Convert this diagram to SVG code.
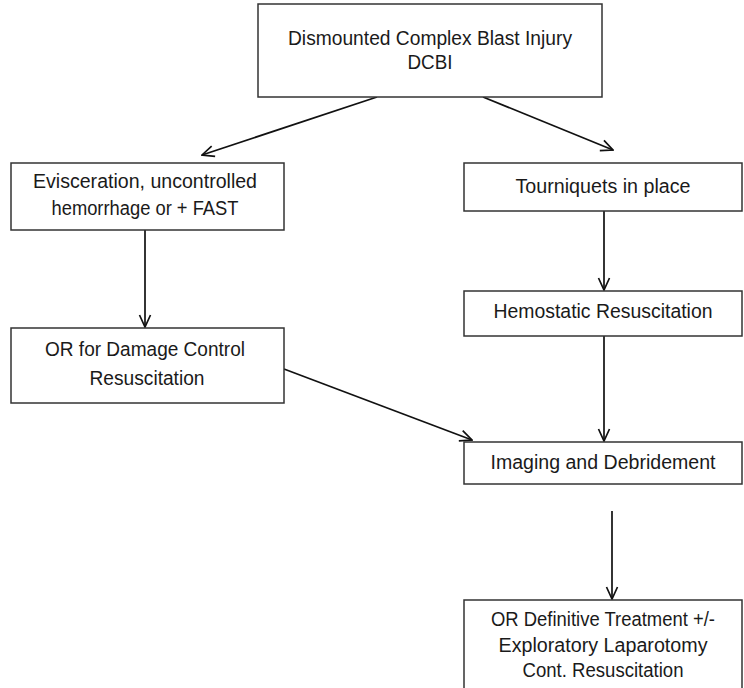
<svg xmlns="http://www.w3.org/2000/svg" width="744" height="688" viewBox="0 0 744 688">
<style>
.box{fill:#fff;stroke:#333;stroke-width:1.5}
.t{font-family:"Liberation Sans",Arial,sans-serif;font-size:20px;fill:#1a1a1a;text-anchor:middle}
.c{stroke:#111;stroke-width:1.7;fill:none}
</style>
<defs>
<marker id="ah" viewBox="0 0 14 14" refX="13" refY="7" markerWidth="14" markerHeight="14" markerUnits="userSpaceOnUse" orient="auto">
<path d="M1,1.5 L13,7 L1,12.5" fill="none" stroke="#111" stroke-width="1.7"/>
</marker>
</defs>
<rect width="744" height="688" fill="#fff"/>
<g id="connectors">
<line class="c" x1="377" y1="97" x2="202" y2="155" marker-end="url(#ah)"/>
<line class="c" x1="483" y1="97" x2="613" y2="150" marker-end="url(#ah)"/>
<line class="c" x1="145" y1="230" x2="145" y2="327" marker-end="url(#ah)"/>
<line class="c" x1="604" y1="211" x2="604" y2="290" marker-end="url(#ah)"/>
<line class="c" x1="604" y1="336" x2="604" y2="441" marker-end="url(#ah)"/>
<line class="c" x1="284" y1="369" x2="472" y2="440" marker-end="url(#ah)"/>
<line class="c" x1="612" y1="511" x2="612" y2="599" marker-end="url(#ah)"/>
</g>
<g id="dcbi">
<rect class="box" x="258" y="4" width="344" height="93"/>
<text class="t" x="430" y="45" textLength="284" lengthAdjust="spacingAndGlyphs">Dismounted Complex Blast Injury</text>
<text class="t" x="430" y="69" textLength="45" lengthAdjust="spacingAndGlyphs">DCBI</text>
</g>
<g id="evisceration">
<rect class="box" x="11" y="163" width="273" height="67"/>
<text class="t" x="145" y="188" textLength="224" lengthAdjust="spacingAndGlyphs">Evisceration, uncontrolled</text>
<text class="t" x="145" y="215" textLength="187" lengthAdjust="spacingAndGlyphs">hemorrhage or + FAST</text>
</g>
<g id="or-damage">
<rect class="box" x="11" y="328" width="273" height="75"/>
<text class="t" x="145" y="356" textLength="200" lengthAdjust="spacingAndGlyphs">OR for Damage Control</text>
<text class="t" x="147" y="385" textLength="115" lengthAdjust="spacingAndGlyphs">Resuscitation</text>
</g>
<g id="tourniquets">
<rect class="box" x="464" y="163" width="278" height="48"/>
<text class="t" x="603" y="193" textLength="175" lengthAdjust="spacingAndGlyphs">Tourniquets in place</text>
</g>
<g id="hemostatic">
<rect class="box" x="464" y="291" width="278" height="45"/>
<text class="t" x="603" y="318" textLength="219" lengthAdjust="spacingAndGlyphs">Hemostatic Resuscitation</text>
</g>
<g id="imaging">
<rect class="box" x="464" y="442" width="278" height="42"/>
<text class="t" x="603" y="469" textLength="225" lengthAdjust="spacingAndGlyphs">Imaging and Debridement</text>
</g>
<g id="or-definitive">
<rect class="box" x="464" y="600" width="278" height="92"/>
<text class="t" x="603" y="626" textLength="224" lengthAdjust="spacingAndGlyphs">OR Definitive Treatment +/-</text>
<text class="t" x="603" y="652" textLength="209" lengthAdjust="spacingAndGlyphs">Exploratory Laparotomy</text>
<text class="t" x="603" y="677" textLength="161" lengthAdjust="spacingAndGlyphs">Cont. Resuscitation</text>
</g>
</svg>
